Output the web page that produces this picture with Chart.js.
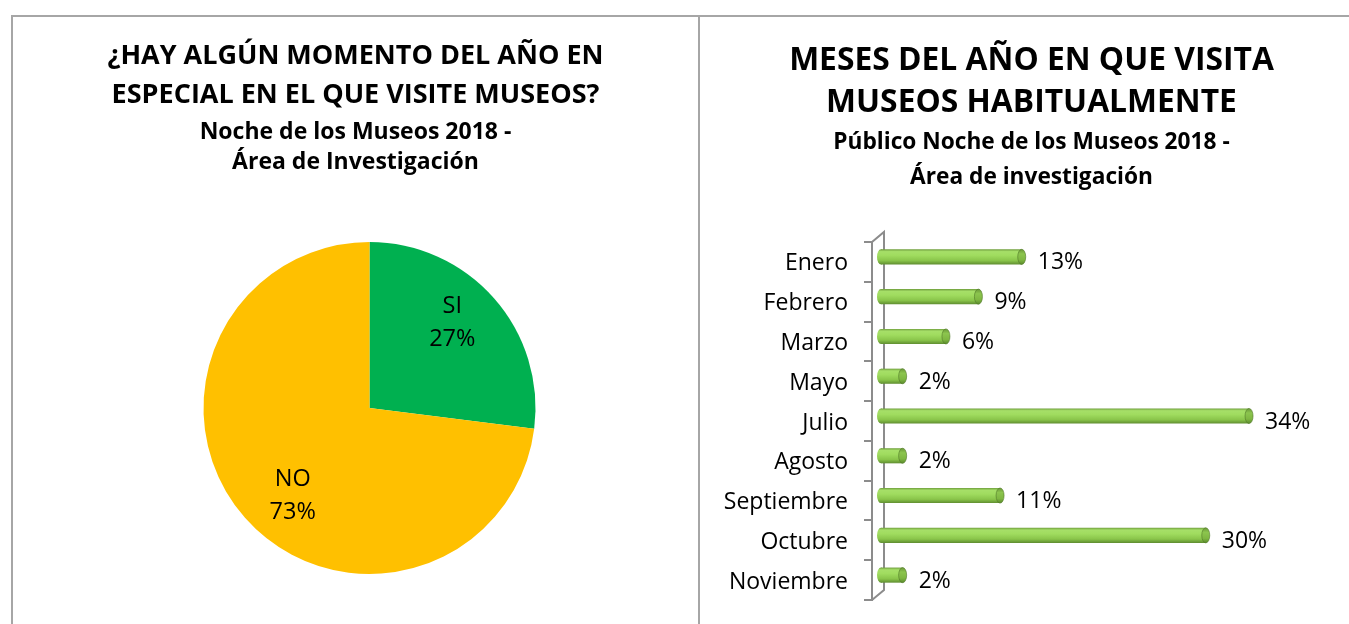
<!DOCTYPE html>
<html>
<head>
<meta charset="utf-8">
<script src="https://cdn.jsdelivr.net/npm/chart.js@4/dist/chart.umd.min.js"></script>
<style>
  html, body { margin: 0; padding: 0; background: #fff; width: 1349px; height: 624px; overflow: hidden; }
  .line { position: absolute; background: #a6a6a6; }
  canvas { position: absolute; }
</style>
</head>
<body>
<div class="line" style="left:11px; top:15px; width:1338px; height:2px;"></div>
<div class="line" style="left:11px; top:15px; width:2px; height:609px;"></div>
<div class="line" style="left:698px; top:15px; width:2px; height:609px;"></div>
<canvas id="pie" width="685" height="620" style="left:13px; top:17px;"></canvas>
<canvas id="bars" width="663" height="620" style="left:700px; top:17px;"></canvas>
<script>
const FONT = '"Open Sans", Lato, sans-serif';

// Left chart data
const pieTitle = ['¿HAY ALGÚN MOMENTO DEL AÑO EN', 'ESPECIAL EN EL QUE VISITE MUSEOS?'];
const pieSubtitle = ['Noche de los Museos 2018 -', 'Área de Investigación'];
const pieLabels = ['SI', 'NO'];
const pieValues = [27, 73];
const pieColors = ['#00B050', '#FFC000'];

// Right chart data
const barTitle = ['MESES DEL AÑO EN QUE VISITA', 'MUSEOS HABITUALMENTE'];
const barSubtitle = ['Público Noche de los Museos 2018 -', 'Área de investigación'];
const months = ['Enero', 'Febrero', 'Marzo', 'Mayo', 'Julio', 'Agosto', 'Septiembre', 'Octubre', 'Noviembre'];
const monthValues = [13, 9, 6, 2, 34, 2, 11, 30, 2];

// Titles span the whole canvas width, independent of layout padding
const fullWidthTitles = {
  id: 'fullWidthTitles',
  afterLayout(chart) {
    chart.boxes.forEach(b => {
      if (!b.axis && (b.options.position === 'top')) {
        b.left = 0;
        b.right = chart.width;
        b.width = chart.width;
      }
    });
  }
};

// ---------- Pie ----------
const pieLabelPlugin = {
  id: 'pieLabels',
  afterDatasetsDraw(chart) {
    const ctx = chart.ctx;
    const meta = chart.getDatasetMeta(0);
    ctx.save();
    ctx.fillStyle = '#000';
    ctx.font = '23.5px ' + FONT;
    ctx.textAlign = 'center';
    ctx.textBaseline = 'middle';
    meta.data.forEach((arc, i) => {
      const p = arc.getProps(['x', 'y', 'startAngle', 'endAngle', 'outerRadius']);
      const mid = (p.startAngle + p.endAngle) / 2 - 6 * Math.PI / 180;
      const r = p.outerRadius * 0.71;
      const cx = p.x + Math.cos(mid) * r;
      const cy = p.y + Math.sin(mid) * r;
      ctx.fillText(pieLabels[i], cx + 3, cy - 15);
      ctx.fillText(pieValues[i] + '%', cx + 3, cy + 18);
    });
    ctx.restore();
  }
};

new Chart(document.getElementById('pie'), {
  type: 'pie',
  data: {
    labels: pieLabels,
    datasets: [{ data: pieValues, backgroundColor: pieColors, borderWidth: 0 }]
  },
  options: {
    responsive: false,
    animation: false,
    layout: { padding: { left: 28, bottom: 63 } },
    plugins: {
      legend: { display: false },
      tooltip: { enabled: false },
      title: {
        display: true, text: pieTitle, color: '#000',
        font: { family: FONT, size: 27, weight: 'bold', lineHeight: '39px' },
        padding: { top: 19.5, bottom: 2.5 }
      },
      subtitle: {
        display: true, text: pieSubtitle, color: '#000',
        font: { family: FONT, size: 23, weight: 'bold', lineHeight: '30px' },
        padding: { top: 0, bottom: 65 }
      }
    }
  },
  plugins: [fullWidthTitles, pieLabelPlugin]
});

// ---------- Bars ----------
const DEPTH_X = 12, DEPTH_Y = 10, SHIFT_X = 9, SHIFT_Y = -5;

function cylGradient(ctx, y, h, stops) {
  const g = ctx.createLinearGradient(0, y - h / 2, 0, y + h / 2);
  stops.forEach(s => g.addColorStop(s[0], s[1]));
  return g;
}
const bodyStops = [[0, '#6f9e3c'], [0.15, '#a6df68'], [0.4, '#a0dc5f'], [0.75, '#89c44a'], [1, '#5f8d30']];
const capStops = [[0, '#6a9838'], [0.3, '#8cc54e'], [0.7, '#7fb742'], [1, '#5a8a2c']];

const wallPlugin = {
  id: 'wall3d',
  beforeDatasetsDraw(chart) {
    const ctx = chart.ctx;
    const a = chart.chartArea;
    ctx.save();
    ctx.strokeStyle = '#8c8c8c';
    ctx.lineWidth = 2;
    ctx.beginPath();
    ctx.moveTo(a.left, a.top); ctx.lineTo(a.left + DEPTH_X, a.top - DEPTH_Y);
    ctx.lineTo(a.left + DEPTH_X, a.bottom - DEPTH_Y); ctx.lineTo(a.left, a.bottom);
    ctx.stroke();
    ctx.restore();
    ctx.save();
    ctx.translate(SHIFT_X, SHIFT_Y);
  },
  afterDatasetsDraw(chart) {
    const ctx = chart.ctx;
    const meta = chart.getDatasetMeta(0);
    meta.data.forEach(el => {
      const p = el.getProps(['x', 'y', 'base', 'height']);
      const h = p.height;
      ctx.fillStyle = cylGradient(ctx, p.y, h, bodyStops);
      ctx.beginPath();
      ctx.ellipse(p.base, p.y, 4, h / 2, 0, 0, Math.PI * 2);
      ctx.fill();
      ctx.fillStyle = cylGradient(ctx, p.y, h, capStops);
      ctx.beginPath();
      ctx.ellipse(p.x, p.y, 4, h / 2, 0, 0, Math.PI * 2);
      ctx.fill();
      ctx.strokeStyle = 'rgba(80,120,40,0.6)';
      ctx.lineWidth = 1;
      ctx.stroke();
    });
    ctx.restore();
    ctx.save();
    ctx.fillStyle = '#000';
    ctx.font = '23px ' + FONT;
    ctx.textAlign = 'left';
    ctx.textBaseline = 'middle';
    meta.data.forEach((el, i) => {
      const p = el.getProps(['x', 'y']);
      ctx.fillText(monthValues[i] + '%', p.x + SHIFT_X + 16, p.y + 1);
    });
    ctx.restore();
  }
};

new Chart(document.getElementById('bars'), {
  type: 'bar',
  data: {
    labels: months,
    datasets: [{
      data: monthValues,
      borderWidth: 0,
      categoryPercentage: 0.38,
      barPercentage: 1,
      backgroundColor(c) {
        const chart = c.chart;
        if (!chart.chartArea) return '#92D050';
        const y = chart.scales.y.getPixelForValue(c.dataIndex);
        const h = (chart.chartArea.height / months.length) * 0.38;
        return cylGradient(chart.ctx, y, h, bodyStops);
      }
    }]
  },
  options: {
    indexAxis: 'y',
    responsive: false,
    animation: false,
    layout: { padding: { left: 0, right: 58, bottom: 37 } },
    plugins: {
      legend: { display: false },
      tooltip: { enabled: false },
      title: {
        display: true, text: barTitle, color: '#000',
        font: { family: FONT, size: 31.8, weight: 'bold', lineHeight: '42px' },
        padding: { top: 23, bottom: 1.5 }
      },
      subtitle: {
        display: true, text: barSubtitle, color: '#000',
        font: { family: FONT, size: 22.7, weight: 'bold', lineHeight: '35px' },
        padding: { top: 0, bottom: 46.5 }
      }
    },
    scales: {
      x: { display: false, min: 0, max: 40 },
      y: {
        position: 'left',
        grid: { display: true, drawOnChartArea: false, drawTicks: true, tickLength: 8, offset: true, color: '#8c8c8c', lineWidth: 2 },
        border: { display: true, color: '#8c8c8c', width: 2 },
        ticks: { color: '#000', font: { family: FONT, size: 23 }, padding: 16, labelOffset: 2 },
        afterFit(scale) { scale.width = 172; }
      }
    }
  },
  plugins: [fullWidthTitles, wallPlugin]
});
</script>
</body>
</html>
